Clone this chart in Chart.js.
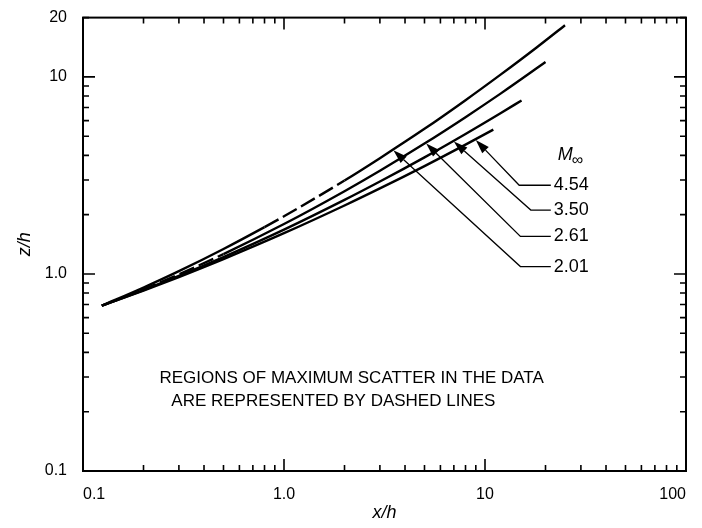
<!DOCTYPE html>
<html>
<head>
<meta charset="utf-8">
<script src="https://cdn.jsdelivr.net/npm/chart.js@4.4.0/dist/chart.umd.min.js"></script>
<style>
  html, body { margin: 0; padding: 0; background: #fff; }
  canvas { display: block; }
</style>
</head>
<body>
<canvas id="chart" width="702" height="528"></canvas>
<script>
// z/h against x/h, one curve per free-stream Mach number
const machLabels = ['2.01', '2.61', '3.50', '4.54'];

const x201 = [0.124, 0.2, 0.3, 0.5, 0.8, 1, 2, 3, 5, 8, 12, 18, 25];
const y201 = [0.69, 0.853, 1.033, 1.339, 1.729, 1.962, 2.98, 3.87, 5.45, 7.62, 10.3, 14.07, 18.3];

const x261 = [0.124, 0.2, 0.3, 0.5, 1, 2, 3, 5, 8, 12, 20];
const y261 = [0.69, 0.836, 0.996, 1.262, 1.792, 2.63, 3.34, 4.59, 6.25, 8.25, 11.9];

const x350 = [0.124, 0.2, 0.3, 0.5, 1, 2, 3, 5, 8, 12, 15.2];
const y350 = [0.69, 0.829, 0.977, 1.218, 1.678, 2.375, 2.944, 3.907, 5.135, 6.56, 7.6];

const x454 = [0.124, 0.2, 0.3, 0.5, 1, 2, 3, 5, 8, 11];
const y454 = [0.69, 0.824, 0.965, 1.19, 1.61, 2.226, 2.717, 3.528, 4.534, 5.4];

// stretches drawn dashed (regions of maximum scatter)
const dashFrom = [0.8, 0.124, null, null];
const dashTo = [2, 0.5, null, null];

// leader lines: where the arrow meets the curve, the elbow, the label height
const arrowX = [3.5, 5.1, 7.0, 9.0];
const elbowX = [15.0, 15.0, 16.9, 14.8];
const labelY = [1.09, 1.55, 2.11, 2.82];
const labelX = 22;
const machTitleX = 23;
const machTitleY = 4.0;

const xTicks = [0.1, 1, 10, 100];
const xTickLabels = ['0.1', '1.0', '10', '100'];
const yTicks = [0.1, 1, 10, 20];
const yTickLabels = ['0.1', '1.0', '10', '20'];

const noteLines = ['REGIONS OF MAXIMUM SCATTER IN THE DATA', 'ARE REPRESENTED BY DASHED LINES'];
const noteX = [0.24, 0.275];
const noteY = [0.295, 0.226];

const xs = [x201, x261, x350, x454];
const ys = [y201, y261, y350, y454];
const FONT = '"Liberation Sans", Arial, sans-serif';

function same(a, b) { return Math.abs(a - b) / b < 1e-6; }
function isDecade(v) { const l = Math.log10(v); return Math.abs(l - Math.round(l)) < 1e-6; }

function logInterp(xa, ya, x) {
  for (let i = 1; i < xa.length; i++) {
    if (x <= xa[i]) {
      const t = Math.log(x / xa[i - 1]) / Math.log(xa[i] / xa[i - 1]);
      return Math.exp(Math.log(ya[i - 1]) + t * Math.log(ya[i] / ya[i - 1]));
    }
  }
  return ya[ya.length - 1];
}

// log ticks: every integer multiple inside each decade
function logTicks(min, max) {
  const out = [];
  for (let d = min; d < max * 1.0001; d *= 10) {
    for (let m = 1; m <= 9; m++) {
      const v = +(m * d).toPrecision(6);
      if (v <= max * 1.0001) out.push({ value: v });
    }
  }
  return out;
}

const datasets = xs.map((xa, i) => ({
  label: machLabels[i],
  data: xa.map((x, j) => ({ x: x, y: ys[i][j] })),
  borderColor: '#000',
  borderWidth: 2.4,
  pointRadius: 0,
  fill: false,
  cubicInterpolationMode: 'monotone',
  segment: {
    borderDash: ctx => (dashFrom[i] !== null &&
      ctx.p0.parsed.x >= dashFrom[i] - 1e-9 && ctx.p1.parsed.x <= dashTo[i] + 1e-9) ? [16, 5] : undefined
  }
}));

const decor = {
  id: 'decor',
  afterDraw(chart) {
    const { ctx, chartArea: a, scales: { x, y } } = chart;
    ctx.save();
    ctx.strokeStyle = '#000';
    ctx.fillStyle = '#000';

    // frame
    ctx.lineWidth = 2;
    ctx.strokeRect(a.left, a.top, a.right - a.left, a.bottom - a.top);

    // inward ticks on all four sides
    ctx.lineWidth = 1.6;
    ctx.beginPath();
    x.ticks.forEach(t => {
      const px = x.getPixelForValue(t.value);
      const len = isDecade(t.value) ? 12 : 6;
      ctx.moveTo(px, a.bottom); ctx.lineTo(px, a.bottom - len);
      ctx.moveTo(px, a.top); ctx.lineTo(px, a.top + len);
    });
    y.ticks.forEach(t => {
      const py = y.getPixelForValue(t.value);
      const len = isDecade(t.value) ? 12 : 6;
      ctx.moveTo(a.left, py); ctx.lineTo(a.left + len, py);
      ctx.moveTo(a.right, py); ctx.lineTo(a.right - len, py);
    });
    ctx.stroke();

    // arrows and leader lines to the Mach number labels
    ctx.lineWidth = 1.3;
    ctx.font = '18px ' + FONT;
    ctx.textBaseline = 'middle';
    ctx.textAlign = 'left';
    const lx = x.getPixelForValue(labelX);
    machLabels.forEach((lab, i) => {
      const tx = x.getPixelForValue(arrowX[i]);
      const ty = y.getPixelForValue(logInterp(xs[i], ys[i], arrowX[i])) + 1;
      const ex = x.getPixelForValue(elbowX[i]);
      const ey = y.getPixelForValue(labelY[i]);
      let ux = tx - ex, uy = ty - ey;
      const n = Math.hypot(ux, uy); ux /= n; uy /= n;
      const bx = tx - ux * 14, by = ty - uy * 14;
      ctx.beginPath();
      ctx.moveTo(tx, ty);
      ctx.lineTo(bx - uy * 4.5, by + ux * 4.5);
      ctx.lineTo(bx + uy * 4.5, by - ux * 4.5);
      ctx.closePath();
      ctx.fill();
      ctx.beginPath();
      ctx.moveTo(bx, by);
      ctx.lineTo(ex, ey);
      ctx.lineTo(lx - 3, ey);
      ctx.stroke();
      ctx.fillText(lab, lx, ey);
    });

    // M-infinity heading
    const mx = x.getPixelForValue(machTitleX);
    const my = y.getPixelForValue(machTitleY);
    ctx.font = 'italic 18px ' + FONT;
    ctx.fillText('M', mx, my);
    const mw = ctx.measureText('M').width;
    ctx.font = '16px ' + FONT;
    ctx.fillText('\u221E', mx + mw - 1, my + 5);

    // note
    ctx.font = '17px ' + FONT;
    noteLines.forEach((s, i) => {
      ctx.fillText(s, x.getPixelForValue(noteX[i]), y.getPixelForValue(noteY[i]));
    });
    ctx.restore();
  }
};

new Chart(document.getElementById('chart').getContext('2d'), {
  type: 'line',
  data: { datasets: datasets },
  options: {
    responsive: false,
    animation: false,
    devicePixelRatio: 1,
    layout: { padding: { top: 11, right: 16, left: 0, bottom: 0 } },
    plugins: { legend: { display: false }, tooltip: { enabled: false } },
    scales: {
      x: {
        type: 'logarithmic',
        min: 0.1,
        max: 100,
        afterBuildTicks: s => { s.ticks = logTicks(0.1, 100); },
        afterFit: s => { s.height = 57; },
        grid: { display: false },
        border: { display: false },
        ticks: {
          autoSkip: false,
          maxRotation: 0,
          align: 'inner',
          padding: 6,
          color: '#000',
          font: { family: FONT, size: 16 },
          callback: v => { const k = xTicks.findIndex(t => same(v, t)); return k >= 0 ? xTickLabels[k] : ''; }
        },
        title: {
          display: true,
          text: 'x/h',
          color: '#000',
          font: { family: FONT, size: 18, style: 'italic' },
          padding: { top: 0, bottom: 4 }
        }
      },
      y: {
        type: 'logarithmic',
        min: 0.1,
        max: 20,
        afterBuildTicks: s => { s.ticks = logTicks(0.1, 20); },
        afterFit: s => { s.width = 83; },
        grid: { display: false },
        border: { display: false },
        ticks: {
          autoSkip: false,
          align: 'inner',
          padding: 8,
          color: '#000',
          font: { family: FONT, size: 16 },
          callback: v => { const k = yTicks.findIndex(t => same(v, t)); return k >= 0 ? yTickLabels[k] : ''; }
        },
        title: {
          display: true,
          text: 'z/h',
          color: '#000',
          font: { family: FONT, size: 18, style: 'italic' },
          padding: { top: 14, bottom: 0 }
        }
      }
    }
  },
  plugins: [decor]
});
</script>
</body>
</html>
